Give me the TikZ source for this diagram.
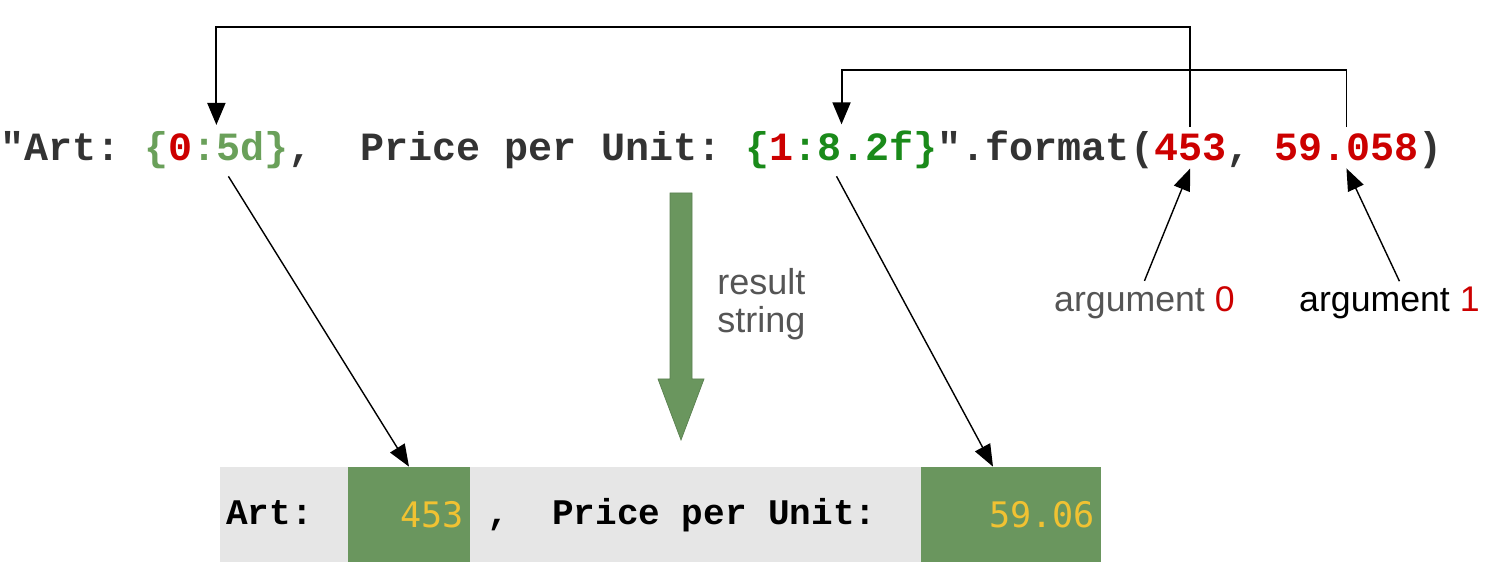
\documentclass[tikz,border=0pt]{standalone}
\usepackage{fontspec}
\usetikzlibrary{arrows.meta}
\newfontfamily\codefont{Liberation Mono}[Ligatures=TeXOff]
\newfontfamily\cellfont{DejaVu Sans Mono}[Ligatures=TeXOff]
\newfontfamily\labelfont{Liberation Sans}
\definecolor{codegray}{HTML}{333333}
\definecolor{fmtpale}{HTML}{6AA05A}
\definecolor{fmtdeep}{HTML}{1A8A1A}
\definecolor{argred}{HTML}{CC0000}
\definecolor{cellgreen}{HTML}{6A965E}
\definecolor{cellyellow}{HTML}{F1C232}
\definecolor{bargray}{HTML}{E6E6E6}
\definecolor{labelgray}{HTML}{555555}
\begin{document}
\begin{tikzpicture}[code/.style = {font=\fontsize{22.8pt}{26pt}\selectfont\codefont\bfseries,
                        text=codegray, anchor=base west, inner xsep=0pt, inner ysep=4pt, outer sep=0pt},
                    rowtext/.style = {font=\fontsize{20.5pt}{24pt}\selectfont\codefont\bfseries,
                        anchor=base west, inner sep=0pt},
                    cell/.style = {fill=cellgreen, text=cellyellow, minimum height=1.9cm,
                        font=\fontsize{20pt}{24pt}\selectfont\cellfont, inner xsep=0.12cm, align=right},
                    argtext/.style = {font=\fontsize{20.3pt}{22pt}\selectfont\labelfont, anchor=base west},
                    arrow/.style = {line width=1.1pt,-{Triangle[length=0.44cm,width=0.36cm]}},
                    link/.style = {line width=0.8pt,-{Triangle[length=0.44cm,width=0.34cm]}}]
                \useasboundingbox (0,0) rectangle (29.7,11.5);

                \node[code] (lead) at (0,8.28) {"Art:~\mbox{}};
                \node[code,text=fmtpale] (fmtzero) at (lead.base east)
                    {\{\textcolor{argred}{0}:5d\}};
                \node[code] (middle) at (fmtzero.base east) {,~~Price~per~Unit:~\mbox{}};
                \node[code,text=fmtdeep] (fmtone) at (middle.base east)
                    {\{\textcolor{argred}{1}:8.2f\}};
                \node[code] (method) at (fmtone.base east) {".format(};
                \node[code,text=argred] (argzero) at (method.base east) {453};
                \node[code] (comma) at (argzero.base east) {,~\mbox{}};
                \node[code,text=argred] (argone) at (comma.base east) {59.058};
                \node[code] (close) at (argone.base east) {)};

                \coordinate (topzero) at (0,10.96);
                \coordinate (topone) at (0,10.1);
                \draw[arrow] (argzero.north) -- (argzero.north |- topzero) -| (fmtzero.north);
                \draw[arrow] (argone.north) -- (argone.north |- topone) -| (fmtone.north);

                \node[argtext,text=labelgray] (argzerolbl) at (20.96,5.26)
                    {argument \textcolor{argred}{0}};
                \node[argtext,text=black] (argonelbl) at (25.86,5.26)
                    {argument \textcolor{argred}{1}};
                \draw[link] (argzerolbl.north) -- (argzero.south);
                \draw[link] ([xshift=0.2cm]argonelbl.north) -- (argone.south);

                \filldraw[fill=cellgreen, draw=cellgreen!85!black, line width=0.4pt]
                    (13.4,7.64) -- (13.84,7.64) -- (13.84,3.92) -- (14.08,3.92)
                    -- (13.62,2.7) -- (13.16,3.92) -- (13.4,3.92) -- cycle;
                \node[font=\fontsize{20.5pt}{21.5pt}\selectfont\labelfont, text=labelgray,
                    align=left, anchor=west, inner sep=0pt] (resultlbl) at (14.34,5.42)
                    {result\\string};

                \node[fill=bargray, minimum width=17.6cm, minimum height=1.9cm] (bar) at (13.2,1.21) {};
                \node[cell, text width=2.2cm] (cellzero) at (8.18,1.21) {453};
                \node[cell, text width=3.36cm] (cellone) at (20.22,1.21) {59.06};
                \node[rowtext] (artlbl) at (4.52,1.0) {Art:};
                \node[rowtext] (pricelbl) at (9.74,1.0) {,~~Price~per~Unit:};

                \draw[link] ([xshift=0.24cm]fmtzero.south) -- (cellzero.north);
                \draw[link] ([xshift=-0.1cm]fmtone.south) -- ([xshift=-0.36cm]cellone.north);
            \end{tikzpicture}
\end{document}
